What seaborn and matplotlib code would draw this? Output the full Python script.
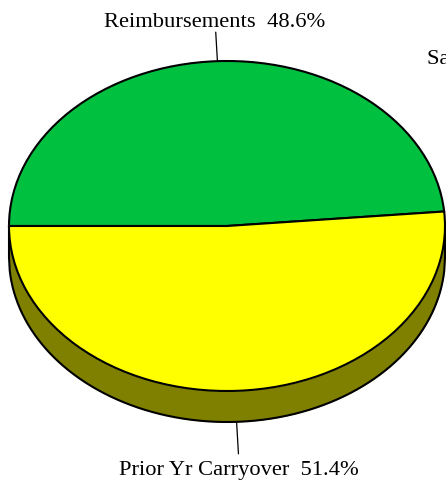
import numpy as np
import matplotlib
matplotlib.use("Agg")
import matplotlib.pyplot as plt
import seaborn as sns

# Funding sources, percent of total
categories = ["Reimbursements", "Prior Yr Carryover"]
shares = [48.6, 51.4]
extra_category = "Salaries"
extra_share = 0.0

sns.set_theme(style="white")
plt.rcParams["font.family"] = ["Liberation Serif", "DejaVu Serif"]

top_colors = sns.color_palette(["#00C040", "#FFFF00"])
side_color = "#808000"
edge_kw = dict(color="black", lw=1.5, solid_capstyle="round")
label_size = 16.2

fig = plt.figure(figsize=(4.46, 4.85), dpi=100)
ax = fig.add_axes([0, 0, 1, 1])

# disc thickness relative to the vertical radius of the tilted top face
depth = 31 / 165

# front rim of the disc (only the lower half is visible)
xs = np.linspace(-1, 1, 600)
front = -np.sqrt(np.clip(1 - xs ** 2, 0, None))
ax.fill_between(xs, front - depth, front, color=side_color, lw=0, zorder=1)
ax.plot(xs, front - depth, zorder=2, **edge_kw)
ax.plot([-1, -1], [0, -depth], zorder=2, **edge_kw)
ax.plot([1, 1], [0, -depth], zorder=2, **edge_kw)

# top face: the first slice ends on the left-hand horizontal radius
total = sum(shares)
start = 180 - 360 * shares[0] / total
wedges, _ = ax.pie(
    shares,
    colors=top_colors,
    startangle=start,
    counterclock=True,
    radius=1,
    center=(0, 0),
    wedgeprops=dict(edgecolor="black", linewidth=1.5),
)
for w in wedges:
    w.set_zorder(3)

# leader lines and labels at each slice's mid angle
for wedge, name, val in zip(wedges, categories, shares):
    mid = np.deg2rad((wedge.theta1 + wedge.theta2) / 2)
    c, s = np.cos(mid), np.sin(mid)
    text = f"{name}  {val:.1f}%"
    if s > 0:
        k0, k1, kt = 1.0, 1 + 29 / 165, 1 + 40 / 165
        ax.plot([k0 * c, k1 * c], [k0 * s, k1 * s], color="black", lw=0.9, zorder=4)
        ax.text(kt * c, kt * s, text, ha="center", va="center", fontsize=label_size,
                color="black", zorder=5)
    else:
        k0, k1, kt = 1.0, 1 + 32 / 165, 1 + 47.5 / 165
        ax.plot([k0 * c, k1 * c], [k0 * s - depth, k1 * s - depth], color="black",
                lw=0.9, zorder=4)
        ax.text(kt * c, kt * s - depth, text, ha="center", va="center",
                fontsize=label_size, color="black", zorder=5)

# label of the empty category at the top right
ax.text(200 / 218, 168 / 165, f"{extra_category}  {extra_share:.1f}%", ha="left",
        va="center", fontsize=label_size, color="black", zorder=5)

ax.set_aspect("auto")
ax.set_xlim(-227 / 218, (446 - 227) / 218)
ax.set_ylim(-258 / 165, (485 - 258) / 165)
ax.axis("off")

fig.savefig("out.png", dpi=100, facecolor="white")
